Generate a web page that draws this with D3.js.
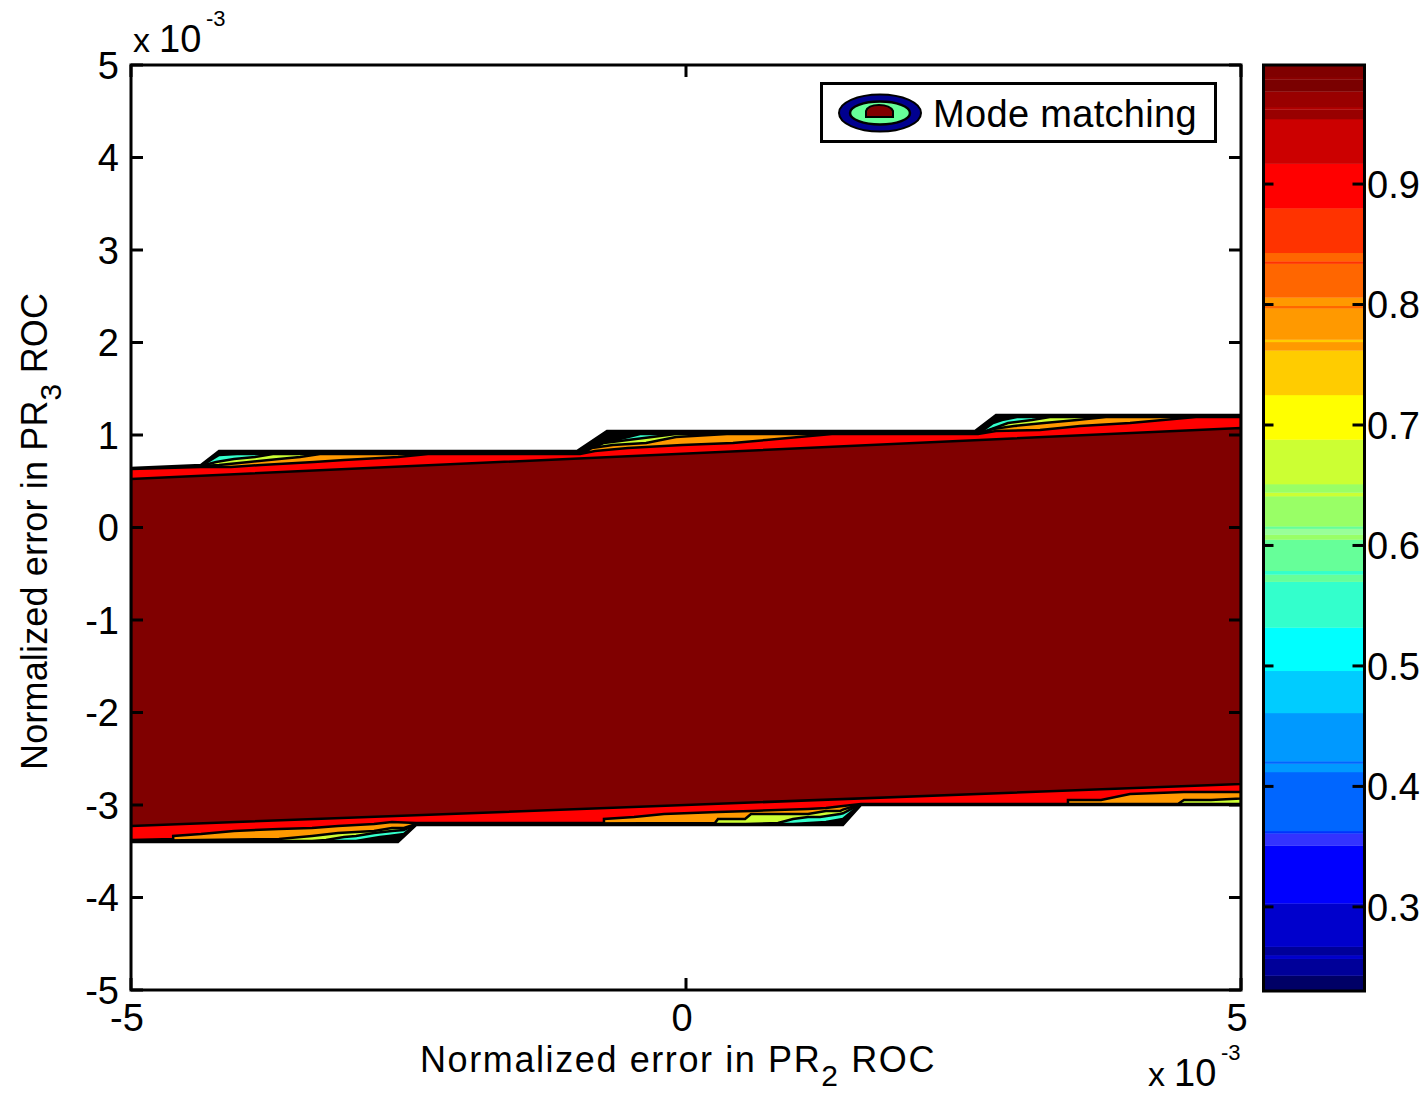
<!DOCTYPE html>
<html><head><meta charset="utf-8">
<script src="https://cdn.jsdelivr.net/npm/d3@7"></script>
<style>
body{margin:0;background:#fff}
svg{display:block}
text{font-family:"Liberation Sans",Arial,sans-serif;fill:#000}
</style>
</head><body>
<svg id="c" width="1423" height="1094"></svg>
<script>
// ---------- data (axis units are x10^-3) ----------
const xTicks = [-5, 0, 5];
const yTicks = [-5, -4, -3, -2, -1, 0, 1, 2, 3, 4, 5];
const cbTicks = [0.3, 0.4, 0.5, 0.6, 0.7, 0.8, 0.9];
const cbBreaks = [0.231,0.243,0.257,0.260,0.267,0.303,0.351,0.361,0.363,0.412,0.419,0.421,0.461,0.496,0.532,0.570,0.576,0.579,0.605,0.609,0.614,0.616,0.641,0.644,0.651,0.688,0.725,0.762,0.769,0.771,0.797,0.799,0.806,0.834,0.836,0.843,0.880,0.917,0.954,0.962,0.964,0.977,0.987,0.989,0.998];
const cbColors = ["#000066","#000099","#0000cc","#000099","#0000cc","#0000ff","#3333ff","#0033ff","#0066ff","#0099ff","#0066ff","#0099ff","#00ccff","#00ffff","#33ffcc","#66ff99","#33ffcc","#66ff99","#99ff66","#99ff99","#66ff99","#99ff66","#ccff33","#99ff66","#ccff33","#ffff00","#ffcc00","#ff9900","#ffcc00","#ff9900","#ff6600","#ff9900","#ff6600","#ff3300","#ff6600","#ff3300","#ff0000","#cc0000","#990000","#b00000","#990000","#7a0000","#8a0000","#800000"];

// filled contour regions (value >= level), each bounded by a top edge and a bottom edge
const levelValues = [0.25, 0.55, 0.67, 0.78, 0.90, 0.99];
const envTop = [[-5,0.643],[-4.37,0.676],[-4.207,0.827],[-0.982,0.827],[-0.712,1.043],[2.604,1.043],[2.793,1.216],[5,1.216]];
const envBottom = [[-5,-3.4],[-2.595,-3.4],[-2.432,-3.216],[1.414,-3.216],[1.577,-3.0],[5,-3.0]];
const cyanTop = [[-5,0.632],[-4.37,0.665],[-4.207,0.784],[-4.045,0.795],[-0.955,0.795],[-0.739,0.914],[-0.414,1.011],[2.631,1.011],[2.766,1.130],[2.847,1.162],[2.982,1.195],[5,1.195]];
const cyanBottom = [[-5,-3.389],[-2.973,-3.389],[-2.865,-3.368],[-2.757,-3.346],[-2.676,-3.335],[-2.541,-3.314],[-2.432,-3.205],[0.964,-3.205],[1.261,-3.184],[1.414,-3.151],[1.577,-2.989],[5,-2.989]];
const ygTop = [[-5,0.632],[-4.37,0.665],[-4.234,0.708],[-4.072,0.741],[-3.883,0.762],[-3.721,0.795],[-0.955,0.795],[-0.739,0.914],[-0.306,0.978],[-0.090,1.011],[2.631,1.011],[2.901,1.130],[3.117,1.162],[3.279,1.195],[5,1.195]];
const ygBottom = [[-5,-3.389],[-3.369,-3.389],[-3.243,-3.378],[-3.081,-3.346],[-2.973,-3.335],[-2.811,-3.303],[-2.649,-3.281],[-2.541,-3.270],[-2.432,-3.205],[0.532,-3.205],[0.829,-3.195],[0.964,-3.151],[1.099,-3.130],[1.207,-3.130],[1.387,-3.097],[1.414,-3.090],[1.577,-2.989],[5,-2.989]];
const orangeTop = [[-5,0.632],[-4.37,0.665],[-4.207,0.676],[-3.937,0.708],[-3.667,0.741],[-3.477,0.762],[-3.297,0.795],[-0.937,0.795],[-0.847,0.859],[-0.658,0.892],[-0.360,0.914],[-0.090,0.978],[0.369,1.011],[2.631,1.011],[2.766,1.065],[2.955,1.097],[3.225,1.130],[3.523,1.162],[3.784,1.195],[5,1.195]];
const orangeBottom = [[-5,-3.389],[-4.37,-3.378],[-3.667,-3.368],[-3.369,-3.335],[-3.135,-3.303],[-2.811,-3.281],[-2.649,-3.249],[-2.541,-3.249],[-2.432,-3.205],[0.261,-3.195],[0.288,-3.151],[0.532,-3.151],[0.586,-3.097],[1.099,-3.097],[1.261,-3.065],[1.387,-3.065],[1.414,-3.050],[1.577,-2.989],[4.432,-2.989],[4.486,-2.946],[4.730,-2.946],[5,-2.930]];
const redTop = [[-5,0.632],[-4.37,0.654],[-4.099,0.654],[-3.829,0.676],[-3.351,0.708],[-3.081,0.730],[-2.595,0.762],[-2.324,0.795],[-0.955,0.795],[-0.820,0.827],[-0.523,0.859],[-0.036,0.892],[0.423,0.914],[0.721,0.946],[1.018,0.978],[1.315,1.011],[2.631,1.011],[2.793,1.043],[3.189,1.054],[3.550,1.097],[4.000,1.130],[4.297,1.162],[4.595,1.195],[5,1.195]];
const redBottom = [[-5,-3.378],[-4.62,-3.368],[-4.62,-3.335],[-4.37,-3.314],[-4.072,-3.281],[-3.667,-3.259],[-3.369,-3.249],[-3.135,-3.227],[-2.811,-3.205],[-2.649,-3.184],[-2.432,-3.195],[-0.739,-3.195],[-0.739,-3.151],[-0.468,-3.130],[-0.198,-3.097],[0.288,-3.076],[0.586,-3.065],[1.099,-3.043],[1.261,-3.032],[1.414,-3.011],[1.577,-2.989],[3.441,-2.989],[3.441,-2.946],[3.739,-2.946],[4.000,-2.881],[4.486,-2.859],[5,-2.859]];
const darkTop = [[-5,0.524],[5,1.076]];
const darkBottom = [[-5,-3.227],[5,-2.773]];
const levelTops = [envTop, cyanTop, ygTop, orangeTop, redTop, darkTop];
const levelBottoms = [envBottom, cyanBottom, ygBottom, orangeBottom, redBottom, darkBottom];

const legendLabel = "Mode matching";

// ---------- drawing ----------
const svg = d3.select("#c");
const FONT = 38;
const x = d3.scaleLinear().domain([-5, 5]).range([131, 1241]);
const y = d3.scaleLinear().domain([-5, 5]).range([990, 65]);
const cb = d3.scaleLinear().domain([0.231, 0.998]).range([990, 66]);

function colorOf(v) {
  for (let i = 0; i < cbColors.length; i++) if (v >= cbBreaks[i] && v < cbBreaks[i+1]) return cbColors[i];
  return cbColors[cbColors.length-1];
}

svg.append("rect").attr("width",1423).attr("height",1094).attr("fill","#fff");

svg.append("clipPath").attr("id","clip").append("rect")
  .attr("x",x(-5)).attr("y",y(5)).attr("width",x(5)-x(-5)).attr("height",y(-5)-y(5));

const line = d3.line().x(d=>x(d[0])).y(d=>y(d[1]));
const gC = svg.append("g").attr("clip-path","url(#clip)");
levelValues.forEach((v,i)=>{
  const pts = levelTops[i].concat(levelBottoms[i].slice().reverse());
  gC.append("path").attr("d", line(pts)+"Z")
    .attr("fill", i===0 ? "#000" : colorOf(v))
    .attr("stroke","#000").attr("stroke-width",2.5).attr("stroke-linejoin","miter");
});

// axes box
const ax = svg.append("g");
ax.append("rect").attr("x",x(-5)).attr("y",y(5)).attr("width",x(5)-x(-5)).attr("height",y(-5)-y(5))
  .attr("fill","none").attr("stroke","#000").attr("stroke-width",3);
const TL = 12;
yTicks.forEach(t=>{
  ax.append("line").attr("x1",x(-5)).attr("x2",x(-5)+TL).attr("y1",y(t)).attr("y2",y(t)).attr("stroke","#000").attr("stroke-width",3);
  ax.append("line").attr("x1",x(5)).attr("x2",x(5)-TL).attr("y1",y(t)).attr("y2",y(t)).attr("stroke","#000").attr("stroke-width",3);
  ax.append("text").attr("x",x(-5)-12).attr("y",y(t)).attr("dy","0.36em").attr("text-anchor","end")
    .attr("font-size",FONT).text(String(t));
});
xTicks.forEach(t=>{
  ax.append("line").attr("x1",x(t)).attr("x2",x(t)).attr("y1",y(-5)).attr("y2",y(-5)-TL).attr("stroke","#000").attr("stroke-width",3);
  ax.append("line").attr("x1",x(t)).attr("x2",x(t)).attr("y1",y(5)).attr("y2",y(5)+TL).attr("stroke","#000").attr("stroke-width",3);
  ax.append("text").attr("x",x(t)-4).attr("y",1031).attr("text-anchor","middle")
    .attr("font-size",FONT).text(String(t));
});

function fitWidth(sel, target){
  const n = sel.node();
  const w = n.getBBox().width;
  const c = n.textContent.length;
  sel.attr("letter-spacing", ((target - w)/c).toFixed(2));
}

// exponent labels
function expLabel(x0, yb){
  svg.append("text").attr("x",x0).attr("y",yb).attr("font-size",34).text("x");
  svg.append("text").attr("x",x0+26).attr("y",yb).attr("font-size",FONT).text("10");
  svg.append("text").attr("x",x0+73).attr("y",yb-26).attr("font-size",22).text("-3");
}
expLabel(133, 52);
expLabel(1148, 1086);

// axis labels
const xl = svg.append("text").attr("x",420).attr("y",1072).attr("font-size",36);
xl.append("tspan").text("Normalized error in PR");
xl.append("tspan").attr("dy",14).attr("font-size",30).text("2");
xl.append("tspan").attr("dy",-14).text(" ROC");
fitWidth(xl, 516);

const yl = svg.append("text").attr("transform","translate(47,770) rotate(-90)").attr("font-size",36);
yl.append("tspan").text("Normalized error in PR");
yl.append("tspan").attr("dy",14).attr("font-size",30).text("3");
yl.append("tspan").attr("dy",-14).text(" ROC");
fitWidth(yl, 477);

// legend
const lg = svg.append("g");
lg.append("rect").attr("x",821.5).attr("y",83.5).attr("width",394).attr("height",58)
  .attr("fill","#fff").attr("stroke","#000").attr("stroke-width",3);
lg.append("ellipse").attr("cx",880).attr("cy",113).attr("rx",41).attr("ry",18.5).attr("fill","#00008f").attr("stroke","#000").attr("stroke-width",2);
lg.append("ellipse").attr("cx",880).attr("cy",113).attr("rx",30).attr("ry",11.5).attr("fill","#66ff99").attr("stroke","#000").attr("stroke-width",2.5);
lg.append("path").attr("d","M866,117 L866,111 Q868,105 879,105 Q890,105 893,111 L893,117 Z").attr("fill","#800000").attr("stroke","#000").attr("stroke-width",2);
const lt = lg.append("text").attr("x",933).attr("y",127).attr("font-size",FONT).text(legendLabel);
fitWidth(lt, 264);

// colorbar
const cbx0 = 1263.5, cbx1 = 1364.5;
const gcb = svg.append("g");
cbColors.forEach((c,i)=>{
  gcb.append("rect").attr("x",cbx0).attr("width",cbx1-cbx0)
    .attr("y",cb(cbBreaks[i+1])).attr("height",cb(cbBreaks[i])-cb(cbBreaks[i+1])+0.3)
    .attr("fill",c);
});
gcb.append("rect").attr("x",cbx0).attr("y",cb(0.998)-1).attr("width",cbx1-cbx0).attr("height",cb(0.231)-cb(0.998)+2)
  .attr("fill","none").attr("stroke","#000").attr("stroke-width",3);
cbTicks.forEach(t=>{
  gcb.append("line").attr("x1",cbx0).attr("x2",cbx0+10).attr("y1",cb(t)).attr("y2",cb(t)).attr("stroke","#000").attr("stroke-width",3);
  gcb.append("line").attr("x1",cbx1).attr("x2",cbx1-12).attr("y1",cb(t)).attr("y2",cb(t)).attr("stroke","#000").attr("stroke-width",3);
  gcb.append("text").attr("x",1367).attr("y",cb(t)).attr("dy","0.36em").attr("font-size",FONT).text(String(t));
});
</script>
</body></html>
